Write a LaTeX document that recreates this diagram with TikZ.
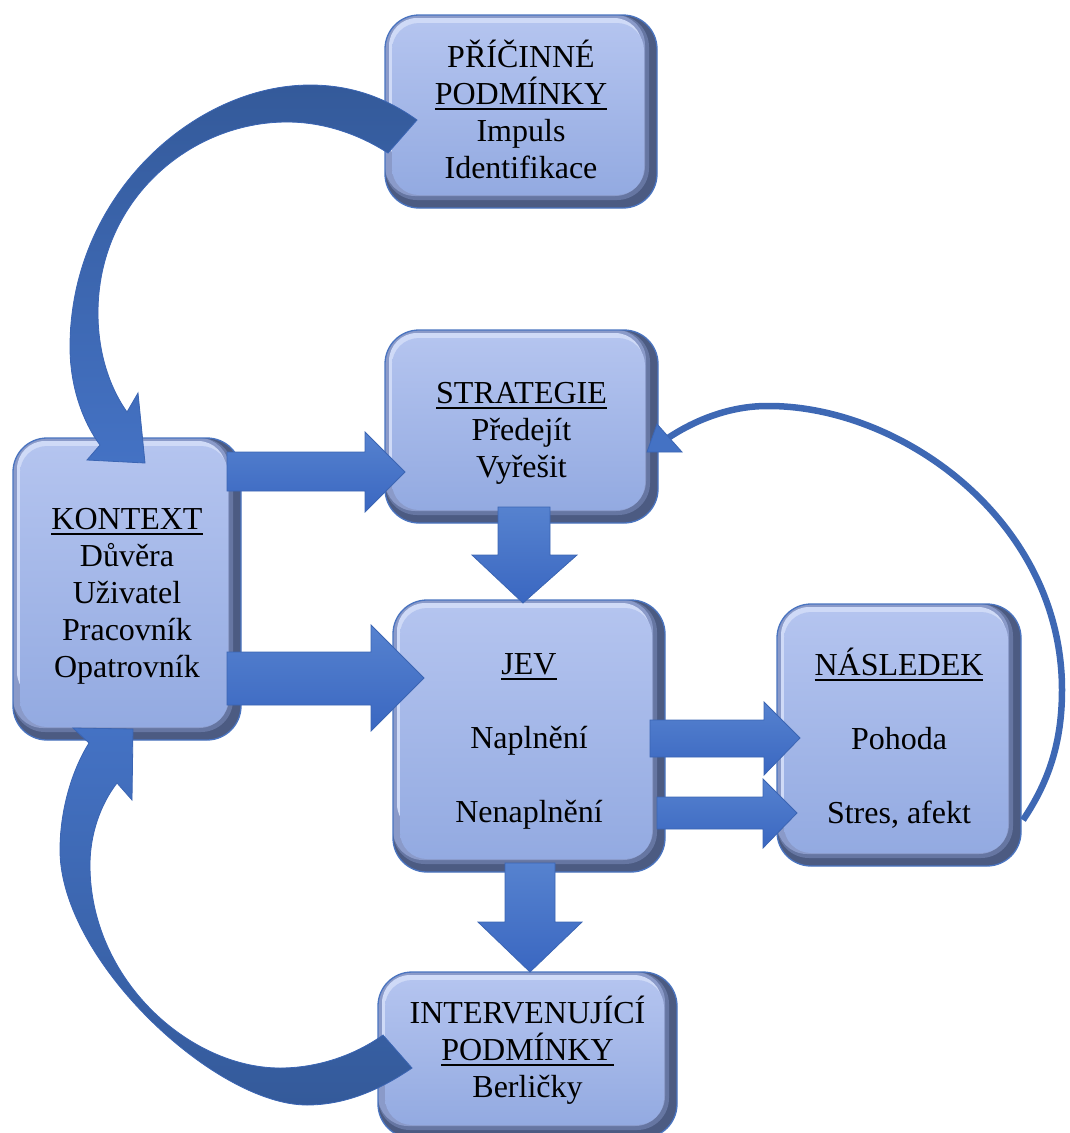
\documentclass[tikz,border=0pt]{standalone}
\usepackage{fontspec}
\setmainfont{Liberation Serif}
\definecolor{boxtop}{HTML}{B4C4EF}
\definecolor{boxbot}{HTML}{93AAE1}
\definecolor{boxedge}{HTML}{4A74C0}
\definecolor{boxmid}{HTML}{8A9AC9}
\definecolor{boxhi}{HTML}{CFDAF7}
\definecolor{boxdark}{HTML}{4C5B82}
\definecolor{boxdark2}{HTML}{6676A2}
\definecolor{arrtop}{HTML}{5682CF}
\definecolor{arrbot}{HTML}{3A67C1}
\definecolor{arredge}{HTML}{3B65B3}
\definecolor{curvdark}{HTML}{345A9A}
\definecolor{curvlight}{HTML}{4472C4}
\definecolor{thinarr}{HTML}{3E68B4}
\newcommand\myul[1]{\setbox0\hbox{#1}\rlap{\rule[-5.5pt]{\wd0}{2pt}}\box0}
\begin{document}
\begin{tikzpicture}[x=1pt,y=-1pt,
  box/.style={rounded corners=34pt, draw=boxedge, line width=1.3pt, fill=boxdark, inner sep=0pt,
    path picture={
      \fill[boxdark2, rounded corners=32pt] (path picture bounding box.north west) rectangle ([shift={(-8pt,8pt)}]path picture bounding box.south east);
      \fill[boxmid, rounded corners=30pt] (path picture bounding box.north west) rectangle ([shift={(-12pt,12pt)}]path picture bounding box.south east);
      \fill[boxhi, rounded corners=28pt] ([shift={(4pt,-3pt)}]path picture bounding box.north west) rectangle ([shift={(-15pt,40pt)}]path picture bounding box.south east);
      \shade[top color=boxtop, bottom color=boxbot, rounded corners=27pt] ([shift={(7pt,-8pt)}]path picture bounding box.north west) rectangle ([shift={(-13pt,13pt)}]path picture bounding box.south east);
    }},
  boxtext/.style={align=center, inner sep=0pt, text=black, font=\fontsize{32}{37}\selectfont},
  blockarrow/.style={top color=arrtop, bottom color=arrbot, draw=arredge, line width=0.8pt},
  curvearrow/.style={draw=arredge, line width=0.8pt},
]
\useasboundingbox (0,0) rectangle (1069,1133);
\clip (0,0) rectangle (1069,1133);

% boxes
\node[box, minimum width=272pt, minimum height=193pt] (pric) at (521,111.5) {};
\node[box, minimum width=273pt, minimum height=193pt] (str) at (521.5,426.5) {};
\node[box, minimum width=228pt, minimum height=302pt] (kon) at (127,589) {};
\node[box, minimum width=272pt, minimum height=272pt] (jev) at (529,736) {};
\node[box, minimum width=244pt, minimum height=262pt] (nas) at (899,735) {};
\node[box, minimum width=299pt, minimum height=166pt] (int) at (527.5,1055) {};

% texts
\node[boxtext] (pricT) at ([yshift=2pt]pric.center) {PŘÍČINNÉ\\\myul{PODMÍNKY}\\Impuls\\Identifikace};
\node[boxtext] (strT) at ([yshift=-7pt]str.center) {\myul{STRATEGIE}\\Předejít\\Vyřešit};
\node[boxtext] (konT) at ([yshift=-7pt]kon.center) {\myul{KONTEXT}\\Důvěra\\Uživatel\\Pracovník\\Opatrovník};
\node[boxtext] (jevT) at ([yshift=-5pt]jev.center) {\myul{JEV}\\[37pt]Naplnění\\[37pt]Nenaplnění};
\node[boxtext] (nasT) at ([yshift=-3pt]nas.center) {\myul{NÁSLEDEK}\\[37pt]Pohoda\\[37pt]Stres, afekt};
\node[boxtext] (intT) at ([yshift=5pt]int.center) {INTERVENUJÍCÍ\\\myul{PODMÍNKY}\\Berličky};

% block arrows
\path[blockarrow] (227,452) -- (365,452) -- (365,432) -- (405,472) -- (365,512) -- (365,491) -- (227,491) -- cycle;
\path[blockarrow] (227,652) -- (371,652) -- (371,625) -- (424,678) -- (371,731) -- (371,705) -- (227,705) -- cycle;
\path[blockarrow] (498,507) -- (550,507) -- (550,555) -- (577,555) -- (523,603) -- (472,555) -- (498,555) -- cycle;
\path[blockarrow] (505,863) -- (555,863) -- (555,922) -- (582,922) -- (530,972) -- (478,922) -- (505,922) -- cycle;
\path[blockarrow] (650,720) -- (764,720) -- (764,702) -- (800,738) -- (764,775) -- (764,757) -- (650,757) -- cycle;
\path[blockarrow] (657,797) -- (763,797) -- (763,779) -- (797,813) -- (763,848) -- (763,829) -- (657,829) -- cycle;

% curved arrow: PRICINNE -> KONTEXT
\path[curvearrow, top color=curvdark, middle color=curvlight, bottom color=curvlight]
  (417,120) .. controls (385,97) and (350,85) .. (310,85)
  .. controls (195,85) and (70,195) .. (70,347)
  .. controls (70,390) and (85,425) .. (100,445)
  -- (87,460) -- (145,463) -- (138,393) -- (127,412)
  .. controls (108,385) and (98,350) .. (98,313)
  .. controls (98,200) and (190,122) .. (287,122)
  .. controls (325,122) and (360,135) .. (388,153)
  -- cycle;

% curved arrow: INTERVENUJICI -> KONTEXT
\path[curvearrow, top color=curvlight, middle color=curvlight, bottom color=curvdark]
  (412,1068) .. controls (380,1090) and (345,1105) .. (307,1105)
  .. controls (215,1105) and (60,960) .. (60,850)
  .. controls (60,810) and (72,770) .. (89,743)
  -- (73,728) -- (133,729) -- (132,800) -- (117,783)
  .. controls (100,805) and (90,835) .. (90,865)
  .. controls (90,980) and (190,1068) .. (280,1068)
  .. controls (318,1068) and (355,1055) .. (383,1035)
  -- cycle;

% thin curved arrow: NASLEDEK -> STRATEGIE
\draw[thinarr, line width=6.5pt]
  (1023,820) .. controls (1050,780) and (1062,740) .. (1062,690)
  .. controls (1062,520) and (900,405) .. (767,406)
  .. controls (730,406) and (695,420) .. (668,438);
\path[curvearrow, fill=curvlight] (647,452) -- (657,424) -- (682,452) -- cycle;
\end{tikzpicture}
\end{document}
